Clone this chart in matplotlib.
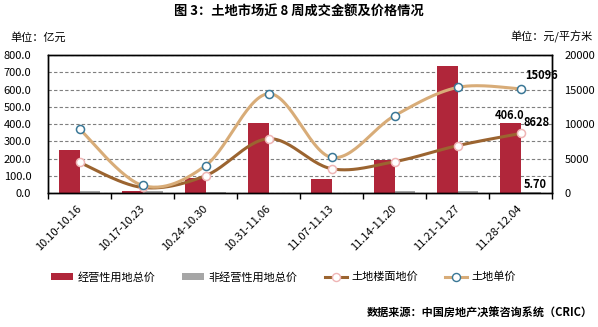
import numpy as np
import matplotlib.pyplot as plt
from matplotlib.patches import Patch
from matplotlib.lines import Line2D

plt.rcParams['font.family'] = ['Noto Sans CJK SC', 'DejaVu Sans']

weeks = ['10.10-10.16', '10.17-10.23', '10.24-10.30', '10.31-11.06',
         '11.07-11.13', '11.14-11.20', '11.21-11.27', '11.28-12.04']
# 亿元
commercial_total = [251.0, 12.0, 89.0, 408.0, 83.0, 193.0, 738.0, 406.0]
noncommercial_total = [9.0, 12.0, 5.0, 0.0, 0.0, 13.0, 13.0, 5.70]
# 元/平方米
floor_price = [4440, 800, 2500, 7870, 3520, 4540, 6860, 8628]
unit_price = [9280, 1100, 3960, 14390, 5160, 11200, 15300, 15096]

red = '#B0263A'
gray = '#A6A6A6'
brown = '#9B6430'
tan = '#D8AC78'
pink = '#EFB5B5'
blue = '#3A7796'


def smooth(xs, ys, n=30):
    # Bezier segments with Catmull-Rom style control points
    p = np.column_stack([xs, ys]).astype(float)
    out = []
    for i in range(len(p) - 1):
        p0 = p[i - 1] if i > 0 else p[i]
        p1, p2 = p[i], p[i + 1]
        p3 = p[i + 2] if i + 2 < len(p) else p[i + 1]
        c1 = p1 + (p2 - p0) / 6
        c2 = p2 - (p3 - p1) / 6
        t = np.linspace(0, 1, n)[:, None]
        seg = ((1 - t) ** 3) * p1 + 3 * ((1 - t) ** 2) * t * c1 + 3 * (1 - t) * t ** 2 * c2 + t ** 3 * p2
        out.append(seg if i == 0 else seg[1:])
    c = np.vstack(out)
    return c[:, 0], c[:, 1]


fig = plt.figure(figsize=(5.98, 3.27), dpi=100)
ax = fig.add_axes([48 / 598, 1 - 193 / 327, 504 / 598, 138 / 327])
ax2 = ax.twinx()

x = np.arange(len(weeks))
w = 0.333
ax.bar(x - w / 2, commercial_total, w, color=red, zorder=2)
ax.bar(x + w / 2, noncommercial_total, w, color=gray, zorder=2)

ax.set_xlim(-0.5, 7.5)
ax.set_ylim(0, 800)
ax.set_yticks(np.arange(0, 801, 100))
ax.set_yticklabels([f'{v:.1f}' for v in range(0, 801, 100)])
ax.yaxis.grid(True, color='#7F7F7F', linestyle=(0, (3, 2)), linewidth=0.8)
ax.set_axisbelow(True)

ax.set_xticks(x)
ax.set_xticklabels(weeks, rotation=45, ha='right', rotation_mode='anchor', va='center')
ax.set_xticks(np.arange(-0.5, 8, 1), minor=True)
ax.tick_params(axis='x', which='major', length=0, pad=10, labelsize=8)
ax.tick_params(axis='x', which='minor', length=4, width=1, direction='out')
ax.tick_params(axis='y', length=0, pad=12, labelsize=8)

ax2.set_ylim(0, 20000)
ax2.set_yticks(np.arange(0, 20001, 5000))
ax2.tick_params(axis='y', length=0, pad=9, labelsize=8)

for a in (ax, ax2):
    for s in a.spines.values():
        s.set_color('black')
        s.set_linewidth(1)

sx, sy = smooth(x, floor_price)
ax2.plot(sx, sy, color=brown, linewidth=2.2, solid_capstyle='round', zorder=3)
ax2.plot(x, floor_price, 'o', markersize=5.8, markerfacecolor='white',
         markeredgecolor=pink, markeredgewidth=1.1, zorder=4)
sx, sy = smooth(x, unit_price)
ax2.plot(sx, sy, color=tan, linewidth=2.2, solid_capstyle='round', zorder=3)
ax2.plot(x, unit_price, 'o', markersize=5.8, markerfacecolor='white',
         markeredgecolor=blue, markeredgewidth=1.1, zorder=4)

# value labels on the last week
ax2.annotate(f'{unit_price[-1]}', (x[-1], unit_price[-1]), xytext=(3, 5),
             textcoords='offset points', fontsize=8, fontweight='bold', ha='left', va='bottom')
ax2.annotate(f'{floor_price[-1]}', (x[-1], floor_price[-1]), xytext=(2, 3),
             textcoords='offset points', fontsize=8, fontweight='bold', ha='left', va='bottom')
ax2.annotate(f'{commercial_total[-1]:.1f}', (x[-1] - w / 2, commercial_total[-1] * 25),
             xytext=(0, 1), textcoords='offset points', fontsize=8, fontweight='bold',
             ha='center', va='bottom')
ax2.annotate(f'{noncommercial_total[-1]:.2f}', (x[-1] + w / 2, noncommercial_total[-1] * 25),
             xytext=(-5, 1), textcoords='offset points', fontsize=8, fontweight='bold',
             ha='left', va='bottom',
             bbox=dict(boxstyle='square,pad=0.1', facecolor='white', edgecolor='none'))

fig.text(0.5, 1 - 12 / 327, '图 3：土地市场近 8 周成交金额及价格情况', ha='center', va='center',
         fontsize=9.5, fontweight='bold')
fig.text(10 / 598, 1 - 37 / 327, '单位：亿元', ha='left', va='center', fontsize=8)
fig.text(593 / 598, 1 - 37 / 327, '单位：元/平方米', ha='right', va='center', fontsize=8)
fig.text(593 / 598, 1 - 313 / 327, '数据来源：中国房地产决策咨询系统（CRIC）', ha='right', va='center',
         fontsize=8, fontweight='bold')

handles = [
    Patch(facecolor=red),
    Patch(facecolor=gray),
    Line2D([], [], color=brown, linewidth=2.2, marker='o', markersize=5.8,
           markerfacecolor='white', markeredgecolor=pink),
    Line2D([], [], color=tan, linewidth=2.2, marker='o', markersize=5.8,
           markerfacecolor='white', markeredgecolor=blue),
]
labels = ['经营性用地总价', '非经营性用地总价', '土地楼面地价', '土地单价']
fig.legend(handles, labels, loc='center left', bbox_to_anchor=(51 / 598, 1 - 277 / 327), ncol=4,
           frameon=False, fontsize=8, handlelength=2.0, handleheight=0.6,
           handletextpad=0.4, columnspacing=2.4, borderpad=0, borderaxespad=0)

fig.savefig('out.png', dpi=100)
